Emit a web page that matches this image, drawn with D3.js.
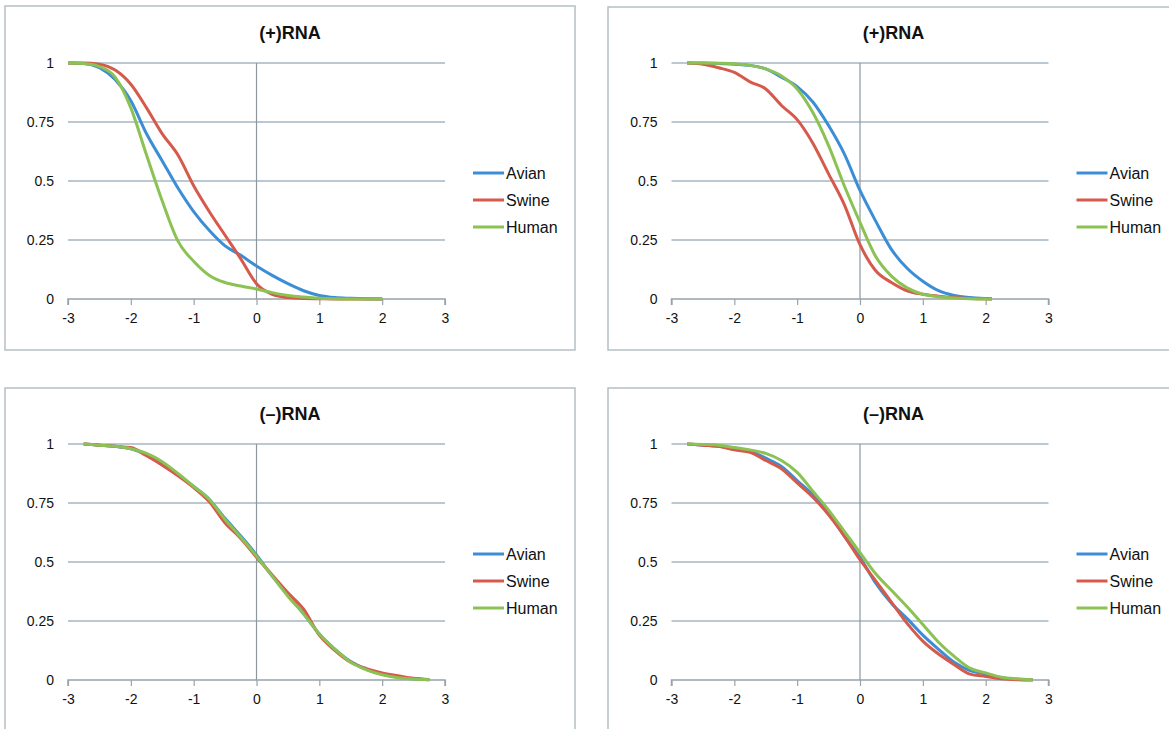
<!DOCTYPE html>
<html>
<head>
<meta charset="utf-8">
<script src="https://cdn.jsdelivr.net/npm/d3@7"></script>
<style>
  body { margin: 0; background: #fff; }
  svg { display: block; font-family: "Liberation Sans", Arial, sans-serif; }
</style>
</head>
<body>
<svg id="chart" width="1169" height="729"></svg>
<script>
// series and ticks
const seriesNames = ["Avian", "Swine", "Human"];
const panelTitles = ["(+)RNA", "(+)RNA", "(\u2013)RNA", "(\u2013)RNA"];
const xTicks = [-3, -2, -1, 0, 1, 2, 3];
const yTicks = [0, 0.25, 0.5, 0.75, 1];

// top left (+)RNA
const xTL = [-3, -2.75, -2.5, -2.25, -2, -1.75, -1.5, -1.25, -1, -0.75, -0.5, -0.25, 0, 0.25, 0.5, 0.75, 1, 1.25, 1.5, 1.75, 2];
const avianTL = [1, 0.998, 0.98, 0.93, 0.84, 0.70, 0.585, 0.47, 0.37, 0.29, 0.225, 0.185, 0.14, 0.10, 0.065, 0.035, 0.015, 0.006, 0.003, 0.001, 0];
const swineTL = [1, 1, 0.995, 0.97, 0.91, 0.81, 0.70, 0.61, 0.48, 0.37, 0.27, 0.17, 0.065, 0.02, 0.006, 0.002, 0.001, 0, 0, 0, 0];
const humanTL = [1, 0.998, 0.985, 0.94, 0.81, 0.61, 0.415, 0.245, 0.16, 0.10, 0.07, 0.055, 0.042, 0.027, 0.015, 0.008, 0.003, 0.001, 0, 0, 0];

// top right (+)RNA
const xTR = [-2.75, -2.5, -2.25, -2, -1.75, -1.5, -1.25, -1, -0.75, -0.5, -0.25, 0, 0.25, 0.5, 0.75, 1, 1.25, 1.5, 1.75, 2, 2.1];
const avianTR = [1, 1, 0.998, 0.995, 0.99, 0.975, 0.94, 0.90, 0.835, 0.735, 0.615, 0.46, 0.33, 0.21, 0.13, 0.075, 0.035, 0.015, 0.006, 0.002, 0.001];
const swineTR = [1, 0.995, 0.98, 0.96, 0.92, 0.89, 0.82, 0.76, 0.66, 0.53, 0.40, 0.23, 0.12, 0.07, 0.035, 0.02, 0.012, 0.006, 0.002, 0.001, 0];
const humanTR = [1, 1, 0.999, 0.997, 0.99, 0.975, 0.945, 0.89, 0.79, 0.65, 0.48, 0.325, 0.18, 0.097, 0.047, 0.02, 0.01, 0.004, 0.001, 0, 0];

// bottom left (-)RNA
const xBL = [-2.75, -2.5, -2.25, -2, -1.75, -1.5, -1.25, -1, -0.75, -0.5, -0.25, 0, 0.25, 0.5, 0.75, 1, 1.25, 1.5, 1.75, 2, 2.25, 2.5, 2.75];
const avianBL = [1, 0.995, 0.99, 0.98, 0.955, 0.92, 0.87, 0.82, 0.765, 0.685, 0.61, 0.53, 0.44, 0.36, 0.28, 0.195, 0.13, 0.078, 0.045, 0.025, 0.013, 0.005, 0.001];
const swineBL = [1, 0.995, 0.99, 0.985, 0.95, 0.91, 0.865, 0.815, 0.755, 0.665, 0.60, 0.52, 0.445, 0.37, 0.30, 0.19, 0.125, 0.075, 0.048, 0.03, 0.018, 0.007, 0.002];
const humanBL = [1, 0.995, 0.99, 0.98, 0.96, 0.925, 0.875, 0.82, 0.765, 0.68, 0.605, 0.525, 0.44, 0.355, 0.28, 0.195, 0.13, 0.075, 0.043, 0.022, 0.01, 0.004, 0.001];

// bottom right (-)RNA
const xBR = [-2.75, -2.5, -2.25, -2, -1.75, -1.5, -1.25, -1, -0.75, -0.5, -0.25, 0, 0.25, 0.5, 0.75, 1, 1.25, 1.5, 1.75, 2, 2.25, 2.5, 2.75];
const avianBR = [1, 0.995, 0.99, 0.98, 0.97, 0.94, 0.905, 0.845, 0.785, 0.71, 0.61, 0.52, 0.41, 0.325, 0.26, 0.19, 0.13, 0.075, 0.04, 0.025, 0.01, 0.003, 0.001];
const swineBR = [1, 0.995, 0.99, 0.975, 0.965, 0.93, 0.895, 0.835, 0.775, 0.70, 0.61, 0.51, 0.42, 0.33, 0.24, 0.165, 0.11, 0.065, 0.025, 0.015, 0.005, 0.001, 0];
const humanBR = [1, 0.998, 0.995, 0.985, 0.975, 0.96, 0.93, 0.88, 0.80, 0.72, 0.63, 0.54, 0.45, 0.38, 0.31, 0.235, 0.16, 0.10, 0.05, 0.03, 0.012, 0.005, 0.001];

const colors = {Avian: "#3b8ed6", Swine: "#d65a4b", Human: "#8cc153"};

const svg = d3.select("#chart");

// frame boxes and plot area positions
const panels = [
  {frame: [5, 6, 570, 344],  left: 68,    top: 63,  xs: xTL, ys: [avianTL, swineTL, humanTL]},
  {frame: [608, 7, 600, 343], left: 671.5, top: 63,  xs: xTR, ys: [avianTR, swineTR, humanTR]},
  {frame: [5, 388, 570, 400], left: 68,    top: 444, xs: xBL, ys: [avianBL, swineBL, humanBL]},
  {frame: [608, 388, 600, 400], left: 671.5, top: 444, xs: xBR, ys: [avianBR, swineBR, humanBR]}
];

const plotW = 377, plotH = 236;

panels.forEach(function(p, i) {
  svg.append("rect")
    .attr("x", p.frame[0]).attr("y", p.frame[1])
    .attr("width", p.frame[2]).attr("height", p.frame[3])
    .attr("fill", "#fff")
    .attr("stroke", "#b5c0c3")
    .attr("stroke-width", 1.5);

  const g = svg.append("g").attr("transform", "translate(" + p.left + "," + p.top + ")");

  const x = d3.scaleLinear().domain([-3, 3]).range([0, plotW]);
  const y = d3.scaleLinear().domain([0, 1]).range([plotH, 0]);

  // horizontal gridlines
  g.selectAll(".grid")
    .data(yTicks.filter(d => d > 0))
    .enter().append("line")
      .attr("x1", 0).attr("x2", plotW)
      .attr("y1", d => y(d)).attr("y2", d => y(d))
      .attr("stroke", "#a4b6c3")
      .attr("stroke-width", 1.5);

  // vertical axis at x = 0
  g.append("line")
    .attr("x1", x(0)).attr("x2", x(0))
    .attr("y1", y(1)).attr("y2", y(0))
    .attr("stroke", "#8e979c")
    .attr("stroke-width", 1.2);

  // x axis along y = 0
  const xAxis = g.append("g")
    .attr("transform", "translate(0," + plotH + ")")
    .call(d3.axisBottom(x).tickValues(xTicks).tickSize(6).tickPadding(8).tickFormat(d => String(d)));
  xAxis.select(".domain").attr("stroke", "#97a3aa").attr("stroke-width", 1.5)
    .attr("d", "M0,6V0H" + plotW + "V6");
  xAxis.selectAll(".tick line").attr("stroke", "#97a3aa").attr("stroke-width", 1.2);
  xAxis.selectAll(".tick text").attr("fill", "#111").style("font-size", "14px").style("font-family", "Liberation Sans, Arial, sans-serif");

  // y tick labels
  g.selectAll(".ylab")
    .data(yTicks)
    .enter().append("text")
      .attr("x", -14)
      .attr("y", d => y(d))
      .attr("dy", "0.35em")
      .attr("text-anchor", "end")
      .style("font-size", "14px")
      .attr("fill", "#111")
      .text(d => d);

  // title
  g.append("text")
    .attr("x", 222)
    .attr("y", -30)
    .attr("dy", "0.35em")
    .attr("text-anchor", "middle")
    .style("font-size", "18px")
    .style("font-weight", "bold")
    .attr("fill", "#111")
    .text(panelTitles[i]);

  // curves
  const line = d3.line()
    .x(d => x(d[0]))
    .y(d => y(d[1]))
    .curve(d3.curveMonotoneX);

  seriesNames.forEach(function(name, k) {
    const pts = p.xs.map((xv, j) => [xv, p.ys[k][j]]);
    g.append("path")
      .datum(pts)
      .attr("fill", "none")
      .attr("stroke", colors[name])
      .attr("stroke-width", 3)
      .attr("stroke-linejoin", "round")
      .attr("d", line);
  });

  // legend
  const leg = g.append("g").attr("transform", "translate(405,110)");
  seriesNames.forEach(function(name, k) {
    leg.append("line")
      .attr("x1", 0).attr("x2", 31)
      .attr("y1", k * 27).attr("y2", k * 27)
      .attr("stroke", colors[name])
      .attr("stroke-width", 3);
    leg.append("text")
      .attr("x", 33)
      .attr("y", k * 27)
      .attr("dy", "0.35em")
      .style("font-size", "16px")
      .attr("fill", "#111")
      .text(name);
  });
});
</script>
</body>
</html>
